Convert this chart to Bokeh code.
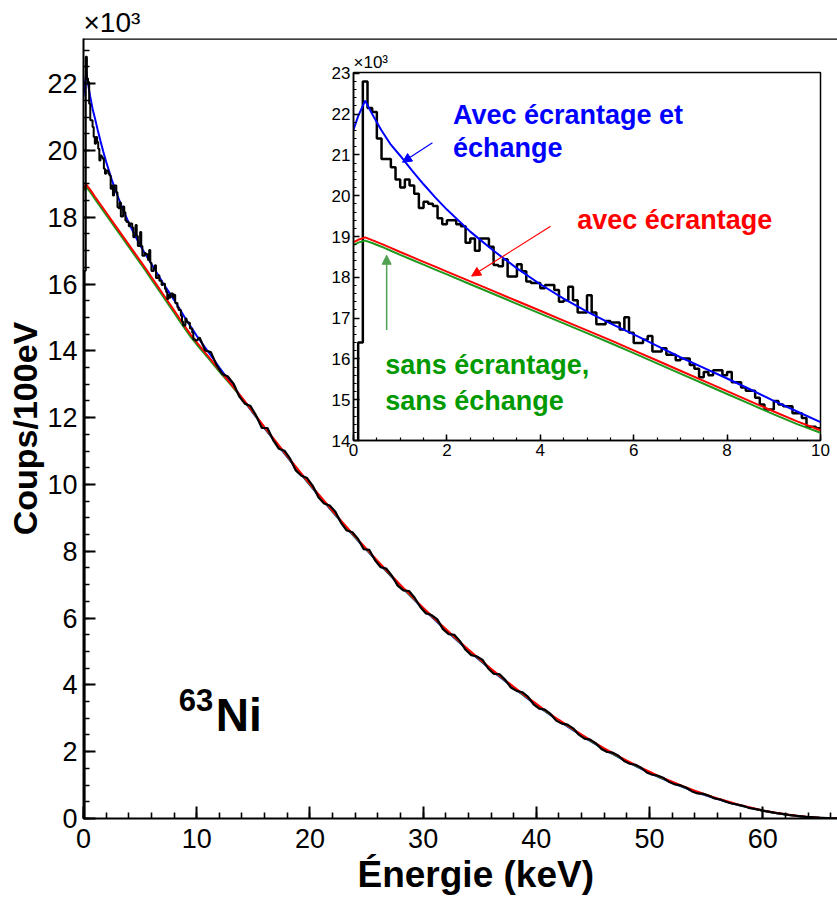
import numpy as np
from bokeh.plotting import figure
from bokeh.models import Range1d, SingleIntervalTicker, Label, Span, Arrow, NormalHead, Title
from bokeh.embed import file_html
from bokeh.resources import INLINE

FONT = "Liberation Sans"

# ---------------- data : counts per 100 eV, in units of 10^3 ----------------
# fine histogram 0 - 10 keV, 0.1 keV bins
hist_fine_width = 0.1
hist_fine = [0.0, 16.4, 22.8, 22.15, 22.05, 21.4, 20.9, 20.9, 20.7, 20.4,
             20.2, 20.4, 20.25, 20.05, 19.7, 19.85, 19.8, 19.75, 19.45, 19.3,
             19.4, 19.4, 19.3, 19.25, 18.85, 18.95, 18.65, 18.95, 18.95, 18.75,
             18.3, 18.27, 18.44, 18.02, 18.02, 18.32, 18.15, 17.9, 17.86, 17.86,
             17.73, 17.81, 17.81, 17.69, 17.4, 17.44, 17.77, 17.44, 17.14, 17.14,
             17.56, 17.14, 16.85, 16.85, 16.93, 16.89, 16.89, 16.72, 17.02, 16.64,
             16.39, 16.39, 16.47, 16.56, 16.18, 16.18, 16.26, 16.1, 16.1, 15.97,
             16.01, 16.01, 15.85, 15.76, 15.55, 15.68, 15.6, 15.72, 15.72, 15.6,
             15.68, 15.43, 15.43, 15.3, 15.22, 15.22, 15.05, 14.88, 14.76, 14.76,
             14.97, 14.88, 14.84, 14.84, 14.67, 14.67, 14.55, 14.34, 14.34, 14.3]
# coarser read-out of the rest of the spectrum, 10 - 67 keV, 0.5 keV steps
hist_tail_start = 10.0
hist_tail_width = 0.5
hist_tail = [14.40, 14.01, 13.96, 13.58, 13.31, 13.23, 13.02, 12.64, 12.42, 12.35,
             12.06, 11.69, 11.69, 11.33, 11.07, 11.01, 10.77, 10.42, 10.26, 10.19,
             9.96, 9.62, 9.43, 9.37, 9.18, 8.85, 8.62, 8.57, 8.37, 8.06,
             8.04, 7.73, 7.52, 7.48, 7.26, 6.97, 6.83, 6.81, 6.61, 6.33,
             6.14, 6.09, 5.96, 5.67, 5.52, 5.50, 5.31, 5.05, 4.89, 4.85,
             4.75, 4.49, 4.33, 4.32, 4.15, 3.92, 3.82, 3.78, 3.65, 3.42,
             3.29, 3.26, 3.13, 2.93, 2.84, 2.81, 2.70, 2.51, 2.39, 2.36,
             2.25, 2.08, 1.99, 1.97, 1.88, 1.72, 1.64, 1.61, 1.52, 1.38,
             1.31, 1.28, 1.21, 1.09, 1.02, 0.99, 0.92, 0.81, 0.75, 0.74,
             0.68, 0.60, 0.57, 0.50, 0.45, 0.42, 0.38, 0.32, 0.29, 0.26,
             0.22, 0.19, 0.16, 0.14, 0.11, 0.09, 0.07, 0.05, 0.04, 0.03,
             0.02, 0.01, 0.0, 0.0]

curve_energy = [0, 0.1, 0.25, 0.4, 0.6, 0.8, 1.0, 1.25, 1.5, 1.75, 2.0, 2.5, 3.0,
                3.5, 4.0, 4.5, 5.0, 5.5, 6.0, 6.5, 7.0, 7.5, 8.0, 8.5, 9.0, 9.5, 10,
                11, 12, 13, 14, 15, 16, 17, 18, 19, 20, 21, 22, 23, 24, 25, 26, 27,
                28, 29, 30, 31, 32, 33, 34, 35, 36, 37, 38, 39, 40, 41, 42, 43, 44,
                45, 46, 47, 48, 49, 50, 51, 52, 53, 54, 55, 56, 57, 58, 59, 60, 61,
                62, 63, 64, 65, 66, 67]
# avec écrantage et échange (blue)
fit_full = [21.62, 21.95, 22.33, 22.0, 21.6, 21.25, 20.98, 20.62, 20.28, 19.96, 19.66,
            19.12, 18.65, 18.22, 17.83, 17.48, 17.16, 16.87, 16.6, 16.32, 16.04, 15.78,
            15.52, 15.25, 14.97, 14.71, 14.45,
            13.98, 13.50, 13.04, 12.58, 12.13, 11.68, 11.25, 10.82, 10.40, 9.98, 9.58,
            9.18, 8.79, 8.41, 8.04, 7.67, 7.31, 6.96, 6.62, 6.28, 5.96, 5.64, 5.33,
            5.03, 4.74, 4.45, 4.18, 3.91, 3.65, 3.40, 3.15, 2.92, 2.70, 2.48, 2.27,
            2.07, 1.88, 1.70, 1.53, 1.37, 1.21, 1.07, 0.93, 0.80, 0.69, 0.58, 0.48,
            0.39, 0.31, 0.235, 0.173, 0.12, 0.077, 0.043, 0.019, 0.005, 0.0]
# avec écrantage (red)
fit_screen = [18.86, 18.92, 18.98, 18.91, 18.82, 18.72, 18.62, 18.50, 18.38, 18.26, 18.14,
              17.90, 17.66, 17.42, 17.18, 16.94, 16.70, 16.46, 16.21, 15.96, 15.71, 15.46,
              15.21, 14.96, 14.71, 14.47, 14.25,
              13.84, 13.42, 13.02, 12.60, 12.16, 11.71, 11.28, 10.85, 10.43, 10.01, 9.61,
              9.21, 8.82, 8.44, 8.07, 7.70, 7.34, 6.99, 6.65, 6.31, 5.99, 5.67, 5.36,
              5.06, 4.77, 4.48, 4.21, 3.94, 3.68, 3.43, 3.18, 2.95, 2.73, 2.51, 2.30,
              2.10, 1.91, 1.73, 1.56, 1.40, 1.24, 1.10, 0.96, 0.83, 0.71, 0.60, 0.50,
              0.40, 0.32, 0.24, 0.18, 0.125, 0.08, 0.045, 0.02, 0.005, 0.0]
# sans écrantage, sans échange (green)
fit_bare = [18.79, 18.85, 18.90, 18.84, 18.75, 18.65, 18.55, 18.43, 18.31, 18.19, 18.07,
            17.83, 17.59, 17.35, 17.11, 16.87, 16.63, 16.39, 16.14, 15.89, 15.64, 15.39,
            15.14, 14.89, 14.64, 14.40, 14.19,
            13.79, 13.38, 12.99, 12.58, 12.14, 11.69, 11.26, 10.83, 10.41, 9.99, 9.59,
            9.19, 8.80, 8.42, 8.05, 7.68, 7.32, 6.97, 6.63, 6.29, 5.97, 5.65, 5.34,
            5.04, 4.75, 4.46, 4.19, 3.92, 3.66, 3.41, 3.16, 2.93, 2.71, 2.49, 2.28,
            2.08, 1.89, 1.71, 1.54, 1.38, 1.22, 1.08, 0.94, 0.81, 0.70, 0.59, 0.49,
            0.39, 0.31, 0.235, 0.173, 0.12, 0.077, 0.043, 0.019, 0.005, 0.0]

BLUE = "#0000ff"
RED = "#ff0000"
GREEN_LINE = "#1f9a1f"
GREEN_TEXT = "#009a00"

# arrays built from the bins
fine_edges = np.arange(len(hist_fine) + 1) * hist_fine_width
fine_y = np.array(hist_fine + [hist_fine[-1]])
tail_centers = hist_tail_start + (np.arange(len(hist_tail)) + 0.5) * hist_tail_width
tail_x = np.concatenate([[hist_tail_start], tail_centers])
tail_y = np.array([hist_fine[-1]] + hist_tail)


def style_axis(ax, size, tick_in, minor_in, lw, standoff):
    ax.axis_line_width = lw
    ax.axis_line_color = "black"
    ax.major_tick_in = tick_in
    ax.major_tick_out = 0
    ax.minor_tick_in = minor_in
    ax.minor_tick_out = 0
    ax.major_tick_line_width = lw
    ax.minor_tick_line_width = lw * 0.8
    ax.major_tick_line_color = "black"
    ax.minor_tick_line_color = "black"
    ax.major_label_text_font = FONT
    ax.major_label_text_font_size = size
    ax.major_label_text_color = "black"
    ax.major_label_standoff = standoff


# ---------------- main figure ----------------
p = figure(width=837, height=912, x_range=Range1d(0, 66.6), y_range=Range1d(0, 23.35),
           output_backend="svg", toolbar_location=None,
           min_border_left=83, min_border_right=0, min_border_top=38, min_border_bottom=94)
p.outline_line_color = None
p.xgrid.visible = False
p.ygrid.visible = False
p.xaxis.ticker = SingleIntervalTicker(interval=10, num_minor_ticks=5)
p.yaxis.ticker = SingleIntervalTicker(interval=2, num_minor_ticks=4)
style_axis(p.xaxis[0], "27px", 12, 6, 2, 10)
style_axis(p.yaxis[0], "27px", 12, 6, 2, 6)

p.yaxis.axis_label = "Coups/100eV"
p.yaxis.axis_label_text_font = FONT
p.yaxis.axis_label_text_font_size = "34px"
p.yaxis.axis_label_text_font_style = "bold"
p.yaxis.axis_label_text_color = "black"
p.yaxis.axis_label_standoff = 0

p.title = Title(text="×10³", align="left", text_font=FONT, text_font_size="28px",
                text_font_style="normal", text_color="black", standoff=1)
p.add_layout(Title(text="Énergie (keV)", align="left", offset=274, text_font=FONT,
                   text_font_size="37px", text_font_style="bold", text_color="black",
                   standoff=2), "below")

p.line(curve_energy, fit_full, color=BLUE, line_width=2)
p.line(curve_energy, fit_bare, color=GREEN_LINE, line_width=2)
p.line(curve_energy, fit_screen, color=RED, line_width=2)
p.step(fine_edges, fine_y, mode="after", color="black", line_width=2)
p.line(tail_x, tail_y, color="black", line_width=2.2)

p.add_layout(Span(location=23.35, dimension="width", line_color="black", line_width=2.5))

p.add_layout(Label(x=8.42, y=3.54, text="63", text_font=FONT, text_font_size="31px",
                   text_font_style="bold", text_color="black", text_baseline="alphabetic"))
p.add_layout(Label(x=11.69, y=3.09, text="Ni", text_font=FONT, text_font_size="46px",
                   text_font_style="bold", text_color="black", text_baseline="alphabetic"))

# ---------------- inset ----------------
ins = figure(width=511, height=424, x_range=Range1d(0, 10), y_range=Range1d(14, 23.02),
             output_backend="svg", toolbar_location=None,
             min_border_left=30, min_border_right=14, min_border_top=24, min_border_bottom=32,
             styles={"position": "absolute", "left": "323px", "top": "48px"})
ins.outline_line_color = "black"
ins.outline_line_width = 1.5
ins.xgrid.visible = False
ins.ygrid.visible = False
ins.xaxis.ticker = SingleIntervalTicker(interval=2, num_minor_ticks=4)
ins.yaxis.ticker = SingleIntervalTicker(interval=1, num_minor_ticks=5)
style_axis(ins.xaxis[0], "17px", 6, 3, 1.5, 3)
style_axis(ins.yaxis[0], "17px", 6, 3, 1.5, 3)
ins.title = Title(text="×10³", align="left", text_font=FONT, text_font_size="17px",
                  text_font_style="normal", text_color="black", standoff=1)

ins.step(fine_edges, fine_y, mode="after", color="black", line_width=2.5)
ins.line(curve_energy[:27], fit_bare[:27], color=GREEN_LINE, line_width=2)
ins.line(curve_energy[:27], fit_screen[:27], color=RED, line_width=2)
ins.line(curve_energy[:27], fit_full[:27], color=BLUE, line_width=2)

ann = dict(text_font=FONT, text_font_size="27px", text_font_style="bold",
           text_baseline="alphabetic")
ins.add_layout(Label(x=2.13, y=21.97, text="Avec écrantage et", text_color=BLUE, **ann))
ins.add_layout(Label(x=2.13, y=21.16, text="échange", text_color=BLUE, **ann))
ins.add_layout(Label(x=4.79, y=19.40, text="avec écrantage", text_color=RED, **ann))
ins.add_layout(Label(x=0.68, y=15.86, text="sans écrantage,", text_color=GREEN_TEXT, **ann))
ins.add_layout(Label(x=0.68, y=14.98, text="sans échange", text_color=GREEN_TEXT, **ann))

ins.add_layout(Arrow(end=NormalHead(size=9, fill_color=BLUE, line_color=BLUE),
                     x_start=1.69, y_start=21.30, x_end=1.05, y_end=20.82,
                     line_color=BLUE, line_width=1.2))
ins.add_layout(Arrow(end=NormalHead(size=9, fill_color=RED, line_color=RED),
                     x_start=4.22, y_start=19.25, x_end=2.53, y_end=18.03,
                     line_color=RED, line_width=1.2))
ins.add_layout(Arrow(end=NormalHead(size=9, fill_color="#4fa24f", line_color="#4fa24f"),
                     x_start=0.71, y_start=16.71, x_end=0.71, y_end=18.54,
                     line_color="#4fa24f", line_width=1.5))

open("out.html", "w").write(file_html([p, ins], INLINE))
